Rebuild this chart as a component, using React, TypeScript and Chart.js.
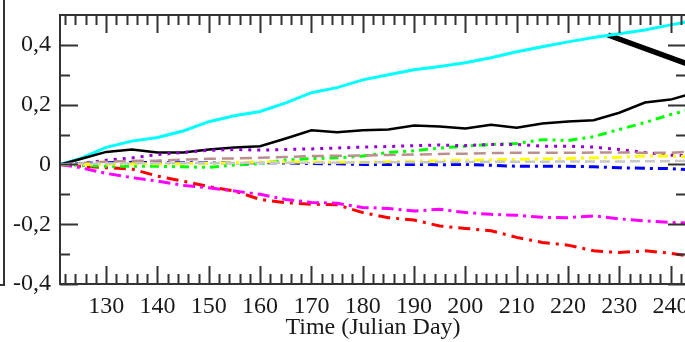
import React, { useEffect, useRef } from "react";
import { Chart, registerables } from "chart.js";

Chart.register(...registerables);

// ---- data ----
const days = [121, 125, 130, 135, 140, 145, 150, 155, 160, 165, 170, 175, 180, 185, 190, 195, 200, 205, 210, 215, 220, 225, 230, 235, 240, 243];

const cyanValues = [0, 0.02, 0.057, 0.078, 0.09, 0.112, 0.143, 0.163, 0.177, 0.206, 0.24, 0.257, 0.283, 0.3, 0.317, 0.328, 0.34, 0.357, 0.377, 0.394, 0.41, 0.425, 0.437, 0.45, 0.467, 0.477];
const blackValues = [0, 0.018, 0.042, 0.05, 0.04, 0.04, 0.05, 0.057, 0.061, 0.087, 0.114, 0.108, 0.114, 0.117, 0.13, 0.127, 0.12, 0.133, 0.123, 0.137, 0.144, 0.148, 0.173, 0.207, 0.217, 0.232];
const greenValues = [0, -0.003, -0.006, -0.006, -0.006, -0.008, -0.01, -0.002, 0.003, 0.015, 0.02, 0.022, 0.028, 0.04, 0.046, 0.055, 0.061, 0.067, 0.07, 0.083, 0.08, 0.093, 0.117, 0.14, 0.167, 0.18];
const purpleValues = [0, 0.003, 0.014, 0.022, 0.033, 0.04, 0.047, 0.05, 0.048, 0.05, 0.052, 0.055, 0.058, 0.06, 0.063, 0.065, 0.063, 0.067, 0.067, 0.061, 0.061, 0.058, 0.05, 0.04, 0.031, 0.03];
const brownValues = [0, 0.004, 0.009, 0.012, 0.013, 0.016, 0.019, 0.02, 0.022, 0.025, 0.028, 0.029, 0.03, 0.032, 0.033, 0.035, 0.036, 0.038, 0.039, 0.039, 0.039, 0.04, 0.04, 0.039, 0.039, 0.042];
const yellowValues = [0, 0, 0.001, 0.002, 0.002, 0.003, 0.004, 0.006, 0.008, 0.008, 0.008, 0.007, 0.007, 0.009, 0.011, 0.012, 0.014, 0.015, 0.017, 0.018, 0.02, 0.022, 0.024, 0.028, 0.028, 0.026];
const greyValues = [0, 0.002, 0.003, 0.004, 0.004, 0.005, 0.005, 0.005, 0.006, 0.006, 0.006, 0.006, 0.007, 0.007, 0.007, 0.008, 0.008, 0.009, 0.009, 0.009, 0.01, 0.01, 0.01, 0.011, 0.011, 0.012];
const blueValues = [0, 0.003, 0.006, 0.007, 0.006, 0.006, 0.006, 0.006, 0.006, 0.005, 0.003, 0.002, 0, 0, 0, -0.001, 0, -0.003, -0.006, -0.006, -0.006, -0.008, -0.011, -0.013, -0.014, -0.017];
const magentaValues = [0, -0.011, -0.03, -0.044, -0.056, -0.07, -0.078, -0.089, -0.1, -0.117, -0.127, -0.13, -0.144, -0.147, -0.156, -0.15, -0.161, -0.167, -0.17, -0.177, -0.178, -0.172, -0.182, -0.189, -0.194, -0.196];
const redValues = [0, -0.006, -0.011, -0.015, -0.039, -0.056, -0.074, -0.089, -0.117, -0.128, -0.133, -0.135, -0.161, -0.178, -0.186, -0.206, -0.214, -0.222, -0.244, -0.261, -0.27, -0.289, -0.295, -0.289, -0.297, -0.305];

// thick black annotation stroke (data coordinates)
const arrowDays = [227.8, 243];
const arrowValues = [0.433, 0.338];

// ---- axes ----
const xMin = 121;
const xMax = 243;
const yMin = -0.4;
const yMax = 0.5;
const xMajorTicks = [130, 140, 150, 160, 170, 180, 190, 200, 210, 220, 230, 240];
const xMinorTicks = [122, 124, 126, 128, 132, 134, 136, 138, 142, 144, 146, 148, 152, 154, 156, 158, 162, 164, 166, 168, 172, 174, 176, 178, 182, 184, 186, 188, 192, 194, 196, 198, 202, 204, 206, 208, 212, 214, 216, 218, 222, 224, 226, 228, 232, 234, 236, 238, 242];
const yTickValues = [-0.4, -0.2, 0, 0.2, 0.4];
const yTickLabels = ["-0,4", "-0,2", "0", "0,2", "0,4"];
const yMinorTicks = [-0.3, -0.1, 0.1, 0.3];
const xAxisTitle = "Time (Julian Day)";

const FONT = "'Liberation Serif', 'Times New Roman', serif";
const AXIS_COLOR = "#333";
const TEXT_COLOR = "#1a1a1a";

const seriesStyles = [
  { values: greyValues, color: "#c8c8c8", width: 2.5, dash: [10, 5] },
  { values: yellowValues, color: "#ffff00", width: 3, dash: [10, 5, 3, 5] },
  { values: brownValues, color: "#bc8f8f", width: 2.5, dash: [12, 6] },
  { values: blueValues, color: "#0000ff", width: 3, dash: [10, 5, 3, 5] },
  { values: purpleValues, color: "#9400d3", width: 3, dash: [3, 6] },
  { values: greenValues, color: "#00ff00", width: 3, dash: [9, 5, 3, 5, 3, 5] },
  { values: magentaValues, color: "#ff00ff", width: 3, dash: [12, 5, 3, 5] },
  { values: redValues, color: "#ff0000", width: 3, dash: [12, 6, 3, 6] },
  { values: blackValues, color: "#000000", width: 2.5, dash: [] as number[] },
  { values: cyanValues, color: "#00ffff", width: 3, dash: [] as number[] },
];

const framePlugin = {
  id: "frameTicks",
  afterDatasetsDraw(chart: any) {
    const { ctx, chartArea: a, scales } = chart;
    const xs = scales.x;
    const ys = scales.y;
    ctx.save();
    ctx.strokeStyle = AXIS_COLOR;
    ctx.lineWidth = 2;
    ctx.lineCap = "butt";
    ctx.beginPath();
    const xt = (v: number, len: number) => {
      const p = Math.round(xs.getPixelForValue(v)) + 0.5;
      ctx.moveTo(p, a.bottom);
      ctx.lineTo(p, a.bottom - len);
      ctx.moveTo(p, a.top);
      ctx.lineTo(p, a.top + len);
    };
    const yt = (v: number, len: number) => {
      const p = Math.round(ys.getPixelForValue(v)) + 0.5;
      ctx.moveTo(a.left, p);
      ctx.lineTo(a.left + len, p);
      ctx.moveTo(a.right, p);
      ctx.lineTo(a.right - len, p);
    };
    xMajorTicks.forEach((v) => xt(v, 18));
    xMinorTicks.forEach((v) => xt(v, 10));
    yTickValues.forEach((v) => yt(v, 18));
    yMinorTicks.forEach((v) => yt(v, 10));
    ctx.stroke();
    ctx.strokeRect(a.left, a.top, a.right - a.left, a.bottom - a.top);
    // edge of the neighbouring panel's frame
    ctx.beginPath();
    ctx.moveTo(4, 0);
    ctx.lineTo(4, a.bottom + 1);
    ctx.lineTo(0, a.bottom + 1);
    ctx.stroke();
    ctx.restore();
  },
};

export default function App() {
  const canvasRef = useRef<HTMLCanvasElement | null>(null);

  useEffect(() => {
    const canvas = canvasRef.current;
    if (!canvas) return;
    const datasets: any[] = seriesStyles.map((s, i) => ({
      label: "s" + i,
      data: days.map((d, j) => ({ x: d, y: s.values[j] })),
      showLine: true,
      borderColor: s.color,
      backgroundColor: s.color,
      borderWidth: s.width,
      borderDash: s.dash,
      pointRadius: 0,
      fill: false,
      tension: 0,
    }));
    datasets.push({
      label: "arrow",
      data: arrowDays.map((d, j) => ({ x: d, y: arrowValues[j] })),
      showLine: true,
      borderColor: "#000",
      borderWidth: 5.5,
      pointRadius: 0,
      fill: false,
    });

    const chart = new Chart(canvas, {
      type: "scatter",
      data: { datasets },
      options: {
        responsive: false,
        animation: false,
        layout: { padding: { top: 15, right: 14, left: 0, bottom: 0 } },
        plugins: { legend: { display: false }, tooltip: { enabled: false } },
        elements: { point: { radius: 0 } },
        scales: {
          x: {
            type: "linear",
            position: "bottom",
            min: xMin,
            max: xMax,
            grid: { display: false, drawTicks: false },
            border: { display: false },
            afterBuildTicks: (s: any) => {
              s.ticks = xMajorTicks.map((v) => ({ value: v }));
            },
            afterFit: (s: any) => {
              s.height = 58;
              s.paddingLeft = 0;
              s.paddingRight = 0;
            },
            ticks: {
              font: { family: FONT, size: 24 },
              color: TEXT_COLOR,
              padding: 8,
              maxRotation: 0,
              autoSkip: false,
              callback: (v: any) => String(v),
            },
            title: {
              display: true,
              text: xAxisTitle,
              font: { family: FONT, size: 24, lineHeight: 1.2 },
              color: TEXT_COLOR,
              padding: { top: 0, bottom: 0 },
            },
          },
          y: {
            type: "linear",
            position: "left",
            min: yMin,
            max: yMax,
            grid: { display: false, drawTicks: false },
            border: { display: false },
            afterBuildTicks: (s: any) => {
              s.ticks = yTickValues.map((v) => ({ value: v }));
            },
            afterFit: (s: any) => {
              s.width = 60;
              s.paddingTop = 0;
              s.paddingBottom = 0;
            },
            ticks: {
              font: { family: FONT, size: 24 },
              color: TEXT_COLOR,
              padding: 9,
              autoSkip: false,
              callback: (_v: any, i: number) => yTickLabels[i],
            },
          },
        },
      },
      plugins: [framePlugin],
    } as any);
    return () => chart.destroy();
  }, []);

  return (
    <div style={{ position: "fixed", left: 0, top: 0, width: 685, height: 342, overflow: "hidden", background: "#fff" }}>
      <canvas ref={canvasRef} width={700} height={342} style={{ display: "block" }} />
    </div>
  );
}
